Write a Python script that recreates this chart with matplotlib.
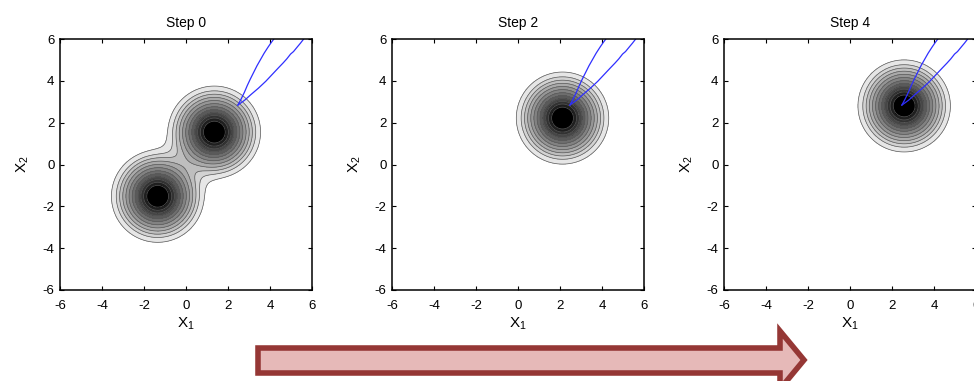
import matplotlib.pyplot as plt
import numpy as np
from matplotlib.patches import Polygon

plt.rcParams["font.family"] = ["Liberation Sans", "DejaVu Sans"]
plt.rcParams["axes.unicode_minus"] = False
plt.rcParams["mathtext.fontset"] = "custom"
plt.rcParams["mathtext.rm"] = "Liberation Sans"
plt.rcParams["mathtext.it"] = "Liberation Sans"

# Panel titles and the Gaussian components of the density at each step
titles = ["Step 0", "Step 2", "Step 4"]
centers = [
    [(-1.35, -1.52), (1.35, 1.55)],
    [(2.12, 2.22)],
    [(2.58, 2.80)],
]
sigma = 0.97

# Contour radii of a single component, outermost first
ring_radii = [2.2, 1.97, 1.81, 1.66, 1.51, 1.36, 1.21, 1.07, 0.93, 0.80, 0.67, 0.52]

# Blue boundary: two branches leaving the same vertex
left_x = [2.47, 2.62, 2.78, 2.92, 3.06, 3.22, 3.38, 3.55, 3.72, 3.90, 4.05, 4.22]
left_y = [2.84, 3.12, 3.45, 3.78, 4.08, 4.40, 4.72, 5.02, 5.32, 5.60, 5.82, 6.05]
right_x = [2.47, 2.80, 3.10, 3.45, 3.80, 4.10, 4.40, 4.62, 4.80, 4.98, 5.12, 5.30, 5.45, 5.62]
right_y = [2.84, 3.08, 3.35, 3.65, 3.98, 4.30, 4.62, 4.85, 5.05, 5.28, 5.40, 5.62, 5.80, 6.02]

ticks = [-6, -4, -2, 0, 2, 4, 6]

grid = np.linspace(-6, 6, 241)
X1, X2 = np.meshgrid(grid, grid)
line_levels = np.exp(-np.array(ring_radii) ** 2 / (2 * sigma ** 2))
fill_levels = list(line_levels) + [10.0]
band_colors = [str(round(v, 3)) for v in np.linspace(0.9, 0.12, len(ring_radii) - 1)] + ["0.0"]

fig = plt.figure(figsize=(9.74, 3.81), dpi=100)

W, H = 974.0, 381.0
lefts = [60, 392, 724]
for left, title, comps in zip(lefts, titles, centers):
    ax = fig.add_axes([left / W, (H - 290) / H, 252 / W, 251 / H])

    Z = np.zeros_like(X1)
    for cx, cy in comps:
        Z += np.exp(-((X1 - cx) ** 2 + (X2 - cy) ** 2) / (2 * sigma ** 2))
    Z /= Z.max()

    ax.contourf(X1, X2, Z, levels=fill_levels, colors=band_colors)
    ax.contour(X1, X2, Z, levels=line_levels, colors="0.35", linewidths=0.5)

    ax.plot(left_x, left_y, color="#2f2fff", lw=0.9)
    ax.plot(right_x, right_y, color="#2f2fff", lw=0.9)

    ax.set_xlim(-6, 6)
    ax.set_ylim(-6, 6)
    ax.set_xticks(ticks)
    ax.set_yticks(ticks)
    ax.tick_params(direction="in", top=True, right=True, length=3, width=0.8,
                   labelsize=9.5, colors="black")
    ax.tick_params(axis="x", pad=7)
    ax.tick_params(axis="y", pad=4)
    for sp in ax.spines.values():
        sp.set_linewidth(1.1)
    ax.set_title(title, fontsize=10, pad=9)
    ax.set_xlabel(r"$\mathregular{X_1}$", fontsize=11, labelpad=3)
    ax.set_ylabel(r"$\mathregular{X_2}$", fontsize=11, labelpad=8)

# Progress arrow along the bottom
arrow_px = [(258, 348), (780, 348), (780, 331), (804, 360),
            (780, 389), (780, 373), (258, 373)]
arrow_pts = [(x / W, (H - y) / H) for x, y in arrow_px]
fig.patches.append(Polygon(arrow_pts, closed=True, transform=fig.transFigure,
                           facecolor="#e6b9b8", edgecolor="#953735",
                           linewidth=4, joinstyle="miter"))

fig.savefig("out.png", dpi=100)
